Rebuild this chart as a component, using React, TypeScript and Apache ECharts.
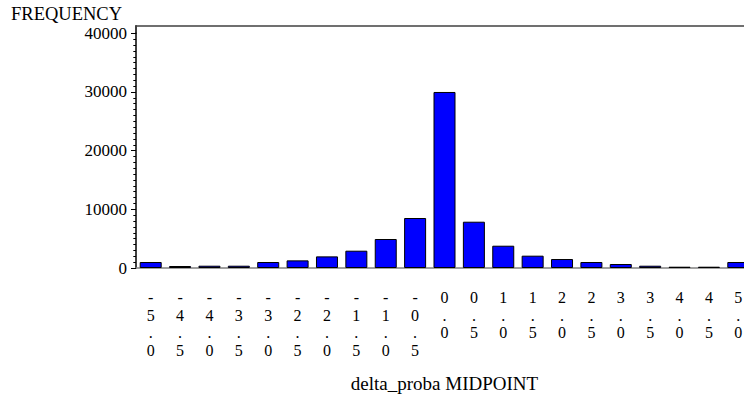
import React, { useEffect, useRef } from "react";
import * as echarts from "echarts";

const categories = [
  "-5.0", "-4.5", "-4.0", "-3.5", "-3.0", "-2.5", "-2.0", "-1.5", "-1.0", "-0.5",
  "0.0", "0.5", "1.0", "1.5", "2.0", "2.5", "3.0", "3.5", "4.0", "4.5", "5.0",
];
const frequencies = [
  1020, 340, 390, 390, 1020, 1300, 1980, 2950, 4940, 8520,
  30000, 7890, 3800, 2100, 1530, 1020, 680, 390, 220, 220, 1020,
];
const yTitle = "FREQUENCY";
const xTitle = "delta_proba MIDPOINT";

const FONT = '"Liberation Serif", "DejaVu Serif", "Times New Roman", serif';

export default function App() {
  const ref = useRef<HTMLDivElement>(null);
  useEffect(() => {
    if (!ref.current) return;
    const chart = echarts.init(ref.current, undefined, { renderer: "svg" });
    const gridLeft = 136;
    const gridTop = 33.3;
    const gridHeight = 234.7;
    chart.setOption({
      animation: false,
      backgroundColor: "#ffffff",
      title: {
        text: yTitle,
        left: 11,
        top: 6.5,
        padding: 0,
        textStyle: {
          fontFamily: FONT,
          fontSize: 18.5,
          lineHeight: 15,
          fontWeight: "normal",
          color: "#000",
        },
      },
      grid: {
        left: gridLeft,
        top: gridTop,
        width: 617,
        height: gridHeight,
        containLabel: false,
        outerBoundsMode: "none",
      },
      xAxis: [
        {
          type: "category",
          data: categories,
          boundaryGap: true,
          axisLine: { show: true, lineStyle: { color: "#808080", width: 1.5 } },
          axisTick: { show: false },
          axisLabel: {
            interval: 0,
            margin: 21,
            fontFamily: FONT,
            fontSize: 16,
            lineHeight: 17.5,
            color: "#000",
            verticalAlign: "top",
            formatter: (v: string) => v.split("").join("\n"),
          },
          name: xTitle,
          nameLocation: "middle",
          nameGap: 106,
          nameTextStyle: { fontFamily: FONT, fontSize: 19, color: "#000" },
        },
        {
          type: "category",
          data: categories,
          position: "top",
          offset: 8,
          axisLine: { show: true, lineStyle: { color: "#404040", width: 1.5 } },
          axisTick: { show: false },
          axisLabel: { show: false },
        },
      ],
      yAxis: {
        type: "value",
        min: 0,
        max: 40000,
        interval: 10000,
        axisLine: { show: true, lineStyle: { color: "#000", width: 1.5 } },
        axisTick: { show: true, length: 5, lineStyle: { color: "#000", width: 1 } },
        minorTick: { show: true, splitNumber: 10, length: 2.7, lineStyle: { color: "#000", width: 1 } },
        splitLine: { show: false },
        axisLabel: {
          margin: 9,
          fontFamily: FONT,
          fontSize: 17,
          lineHeight: 14,
          color: "#000",
          formatter: (v: number) => String(v),
        },
      },
      graphic: [
        {
          type: "line",
          shape: { x1: gridLeft, y1: gridTop - 8, x2: gridLeft, y2: gridTop },
          style: { stroke: "#000", lineWidth: 1.5 },
          silent: true,
        },
      ],
      series: [
        {
          type: "bar",
          data: frequencies,
          barWidth: 22,
          itemStyle: { color: "#0000ff", borderColor: "#000", borderWidth: 1 },
        },
      ],
    });
    return () => chart.dispose();
  }, []);
  return (
    <div
      ref={ref}
      style={{ position: "fixed", left: 0, top: 0, width: 744, height: 396 }}
    />
  );
}
